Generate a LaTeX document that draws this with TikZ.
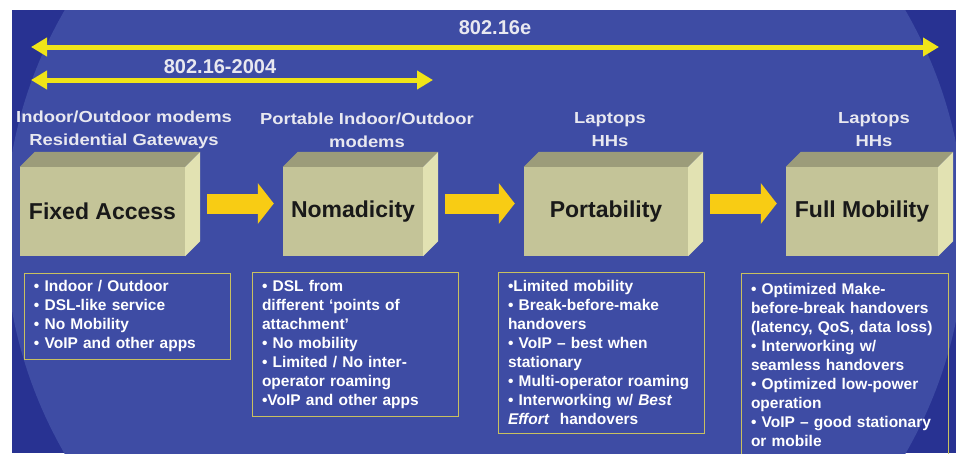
\documentclass[tikz,border=0pt]{standalone}
\usepackage{fontspec}
\setmainfont{Liberation Sans}
\newfontfamily\widefont[FakeStretch=1.15]{Liberation Sans}
\usetikzlibrary{arrows.meta}
\definecolor{bg-blue}{RGB}{62,76,164}
\definecolor{bg-dark}{RGB}{40,50,146}
\definecolor{box-front}{RGB}{196,196,152}
\definecolor{box-top}{RGB}{156,156,122}
\definecolor{box-side}{RGB}{226,226,178}
\definecolor{line-yellow}{RGB}{240,228,24}
\definecolor{block-yellow}{RGB}{248,204,20}
\definecolor{frame-yellow}{RGB}{200,192,96}
\definecolor{head-white}{RGB}{232,232,240}

\begin{document}
\begin{tikzpicture}[x=1pt,y=-1pt,
	front/.style={fill=box-front, inner sep=0pt, text=black!90, font=\fontsize{23}{26}\selectfont\bfseries},
	heading/.style={align=center, text=head-white, font=\widefont\fontsize{16}{23}\selectfont\bfseries},
	stdlabel/.style={text=head-white, font=\fontsize{20}{24}\selectfont\bfseries},
	stdarrow/.style={line-yellow, line width=5pt, {Triangle[width=18pt,length=16pt]}-{Triangle[width=18pt,length=16pt]}},
	blockarrow/.style={block-yellow, line width=20pt, -{Triangle[width=40pt,length=16pt]}, shorten <=22pt, shorten >=9pt},
	listbox/.style={draw=frame-yellow, line width=0.8pt, text=white, align=left, inner xsep=10pt, inner ysep=0pt, text width=186pt, font=\fontsize{15.5}{19}\selectfont\bfseries}]

	\useasboundingbox (0,0) rectangle (956,453);

	% background
	\fill[bg-dark] (12,10) rectangle (956,453);
	\begin{scope}
		\clip (12,10) rectangle (956,453);
		\fill[bg-blue] (485,232) ellipse [x radius=480pt, y radius=459pt];
	\end{scope}

	% standards
	\coordinate (e-west) at (31,47);
	\coordinate (e-east) at (939,47);
	\coordinate (d-west) at (31,80);
	\coordinate (d-east) at (433,80);
	\draw[stdarrow] (e-west) -- (e-east);
	\draw[stdarrow] (d-west) -- (d-east);
	\node[stdlabel] (e-label) at (495,28) {802.16e};
	\node[stdlabel] (d-label) at (220,67) {802.16-2004};

	% usage stages
	\node[front, minimum width=165pt, minimum height=89pt] (fixed) at (102.5,211.5) {Fixed Access};
	\node[front, minimum width=140pt, minimum height=89pt] (nomad) at (353,211.5) {Nomadicity};
	\node[front, minimum width=164pt, minimum height=89pt] (portab) at (606,211.5) {Portability};
	\node[front, minimum width=152pt, minimum height=89pt] (fullmob) at (862,211.5) {Full Mobility};

	\foreach \b in {fixed,nomad,portab,fullmob} {
		\fill[box-top] (\b.north west) -- ++(15,-15) -- ([shift={(15,-15)}]\b.north east) -- (\b.north east) -- cycle;
		\fill[box-side] (\b.north east) -- ++(15,-15) -- ([shift={(15,-15)}]\b.south east) -- (\b.south east) -- cycle;
	}

	\foreach \a/\b in {fixed/nomad,nomad/portab,portab/fullmob}
		\draw[blockarrow] ([yshift=8pt]\a.east) -- ([yshift=8pt]\b.west);

	% devices
	\node[heading] (fixed-dev) at (124,130) {Indoor/Outdoor modems\\Residential Gateways};
	\node[heading] (nomad-dev) at (367,130) {Portable Indoor/Outdoor\\modems};
	\node[heading] (portab-dev) at (610,130) {Laptops\\HHs};
	\node[heading] (fullmob-dev) at (874,130) {Laptops\\HHs};

	% features
	\node[listbox, minimum height=86pt] (fixed-list) at (127,316) {%
		• Indoor / Outdoor\\
		• DSL-like service\\
		• No Mobility\\
		• VoIP and other apps};
	\node[listbox, minimum height=144pt] (nomad-list) at (355,344) {%
		• DSL from\\
		different ‘points of\\
		attachment’\\
		• No mobility\\
		• Limited / No inter-\\
		operator roaming\\
		•VoIP and other apps};
	\node[listbox, minimum height=161pt] (portab-list) at (601,352.5) {%
		•Limited mobility\\
		• Break-before-make\\
		handovers\\
		• VoIP -- best when\\
		stationary\\
		• Multi-operator roaming\\
		• Interworking w/ \textit{Best}\\
		\textit{Effort}\ \ handovers};
	\node[listbox, minimum height=184pt, text width=187pt] (fullmob-list) at (844.5,365) {%
		• Optimized Make-\\
		before-break handovers\\
		(latency, QoS, data loss)\\
		• Interworking w/\\
		seamless handovers\\
		• Optimized low-power\\
		operation\\
		• VoIP -- good stationary\\
		or mobile};

\end{tikzpicture}
\end{document}
